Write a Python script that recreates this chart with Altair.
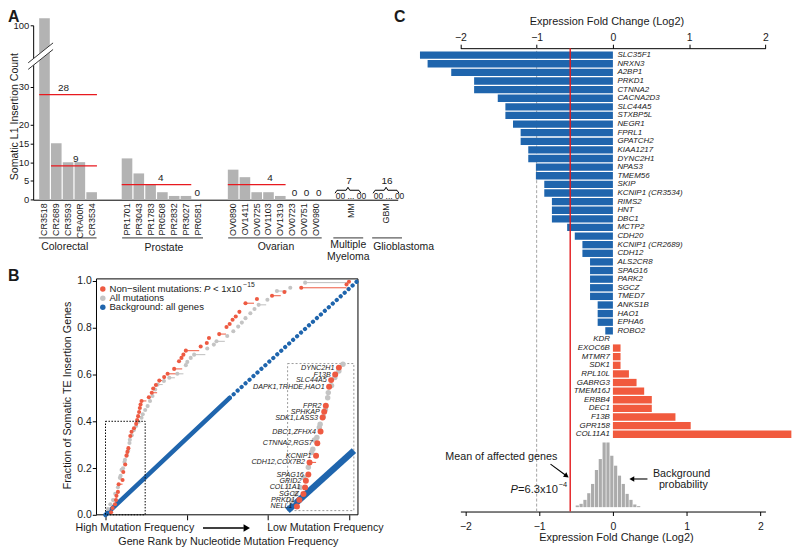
import altair as alt
import pandas as pd

FONT = "Liberation Sans"
W, H = 788, 546
INK = "#1a1a1a"
BLUE = "#1f65ad"
RED_C = "#f15a3e"
RED_B = "#ee5a42"
GRAY_B = "#c4c4c4"
GRAY_A = "#b3b3b3"
MEAN_RED = "#e8191f"

# ---------------- Panel A data ----------------
a_samples = ["CR3518", "CR2689", "CR3593", "CRA00R", "CR3534",
             "PR1701", "PR3043", "PR1783", "PR0508", "PR2832", "PR3027", "PR0581",
             "OV0890", "OV1411", "OV0725", "OV1103", "OV1319", "OV0723", "OV0751", "OV0980"]
a_counts = [103, 15, 10, 10, 2, 11, 7, 4, 2, 1, 1, 0, 8, 6, 2, 2, 1, 0, 0, 0]
a_axis_slots = ["CR3518", "CR2689", "CR3593", "CRA00R", "CR3534", "gap1", "gap2",
                "PR1701", "PR3043", "PR1783", "PR0508", "PR2832", "PR3027", "PR0581", "gap3", "gap4",
                "OV0890", "OV1411", "OV0725", "OV1103", "OV1319", "OV0723", "OV0751", "OV0980", "gap5", "gap6",
                "MM", "gap7", "gap8", "GBM"]
a_mean_from = ["CR3518", "CR2689", "PR1701", "OV0890"]
a_mean_to = ["CR3534", "CR3534", "PR3027", "OV1319"]
a_mean_value = [28, 9, 4, 4]
a_mean_label_slot = ["CR3593", "CRA00R", "PR0508", "OV1103"]
a_y_ticks = [0, 5, 10, 15, 20, 30, 100]
pooled_names = ["MM", "GBM"]
pooled_totals = ["7", "16"]

# ---------------- Panel B data ----------------
red_x = [0.023, 0.029, 0.039, 0.043, 0.045, 0.051, 0.054, 0.070, 0.073, 0.081, 0.086, 0.090, 0.094,
         0.102, 0.107, 0.117, 0.126, 0.130, 0.134, 0.138, 0.141, 0.144, 0.148, 0.178, 0.190, 0.196,
         0.207, 0.221, 0.241, 0.255, 0.282, 0.302, 0.312, 0.320, 0.330, 0.391, 0.416, 0.425, 0.467,
         0.497, 0.510, 0.522, 0.535, 0.550, 0.575, 0.622, 0.684, 0.735, 0.804, 0.990, 1.000]
red_y = [0.011, 0.029, 0.045, 0.063, 0.081, 0.098, 0.131, 0.149, 0.183, 0.215, 0.253, 0.269, 0.285,
         0.337, 0.355, 0.370, 0.389, 0.405, 0.422, 0.440, 0.457, 0.472, 0.487, 0.503, 0.522, 0.540,
         0.555, 0.574, 0.589, 0.603, 0.624, 0.657, 0.671, 0.685, 0.702, 0.720, 0.735, 0.756, 0.773,
         0.803, 0.816, 0.834, 0.848, 0.868, 0.905, 0.923, 0.937, 0.953, 0.971, 0.985, 0.997]
red_tail = [0.023, 0.029, 0.039, 0.043, 0.045, 0.051, 0.070, 0.070, 0.073, 0.081, 0.086, 0.090, 0.094,
            0.102, 0.107, 0.117, 0.126, 0.130, 0.134, 0.138, 0.141, 0.144, 0.168, 0.178, 0.212, 0.196,
            0.207, 0.245, 0.241, 0.290, 0.315, 0.302, 0.312, 0.320, 0.385, 0.391, 0.416, 0.425, 0.495,
            0.497, 0.510, 0.522, 0.535, 0.550, 0.610, 0.622, 0.720, 0.735, 0.990, 0.990, 1.000]
inset_labels = ["NELL1", "PRKD1", "SGCZ", "COL11A1", "GRID2", "SPAG16", "CDH12,COX7B2", "KCNIP1",
                "CTNNA2,RGS7", "DBC1,ZFHX4", "SDK1,LASS3", "SPHKAP", "FPR2", "DAPK1,TRHDE,HAO1",
                "SLC44A5", "F13B", "DYNC2H1"]
gray_x = [0.010, 0.020, 0.031, 0.040, 0.051, 0.059, 0.062, 0.066, 0.072, 0.078, 0.080, 0.088, 0.093,
          0.0985, 0.100, 0.108, 0.116, 0.126, 0.136, 0.148, 0.153, 0.163, 0.173, 0.183, 0.193, 0.204,
          0.214, 0.240, 0.262, 0.295, 0.330, 0.336, 0.350, 0.364, 0.418, 0.445, 0.456, 0.500, 0.525,
          0.545, 0.560, 0.575, 0.595, 0.612, 0.629, 0.665, 0.704, 0.759, 0.820]
gray_y = [0.025, 0.045, 0.063, 0.090, 0.118, 0.158, 0.167, 0.192, 0.199, 0.226, 0.235, 0.255, 0.275,
          0.307, 0.321, 0.340, 0.362, 0.380, 0.398, 0.415, 0.430, 0.448, 0.465, 0.487, 0.508, 0.536,
          0.557, 0.572, 0.586, 0.603, 0.640, 0.654, 0.671, 0.685, 0.711, 0.728, 0.742, 0.765, 0.785,
          0.805, 0.822, 0.841, 0.862, 0.880, 0.898, 0.920, 0.957, 0.971, 0.993]
gray_tail = [0.010, 0.020, 0.031, 0.040, 0.051, 0.059, 0.062, 0.066, 0.072, 0.078, 0.080, 0.088, 0.093,
             0.0985, 0.100, 0.108, 0.116, 0.126, 0.136, 0.148, 0.153, 0.163, 0.173, 0.183, 0.193, 0.204,
             0.235, 0.240, 0.285, 0.320, 0.330, 0.336, 0.350, 0.410, 0.418, 0.445, 0.490, 0.500, 0.525,
             0.545, 0.560, 0.575, 0.595, 0.612, 0.660, 0.665, 0.745, 0.759, 0.995]
bg_x = [0.0, 0.51, 1.035]
bg_y = [0.0, 0.50, 1.0]
b_y_ticks = [0, 0.2, 0.4, 0.6, 0.8, 1.0]
b_x_ticks = [0, 1 / 3, 2 / 3, 1]

# ---------------- Panel C data ----------------
c_genes = ["SLC35F1", "NRXN3", "A2BP1", "PRKD1", "CTNNA2", "CACNA2D3", "SLC44A5", "STXBP5L", "NEGR1",
           "FPRL1", "GPATCH2", "KIAA1217", "DYNC2H1", "NPAS3", "TMEM56", "SKIP", "KCNIP1 (CR3534)",
           "RIMS2", "HNT", "DBC1", "MCTP2", "CDH20", "KCNIP1 (CR2689)", "CDH12", "ALS2CR8", "SPAG16",
           "PARK2", "SGCZ", "TMED7", "ANKS1B", "HAO1", "EPHA6", "ROBO2", "KDR", "EXOC6B", "MTMR7",
           "SDK1", "RPL10L", "GABRG3", "TMEM16J", "ERBB4", "DEC1", "F13B", "GPR158", "COL11A1"]
c_fc = [-2.53, -2.43, -2.12, -1.82, -1.82, -1.51, -1.41, -1.41, -1.31, -1.21, -1.21, -1.11, -1.11,
        -1.01, -1.01, -0.90, -0.90, -0.80, -0.80, -0.80, -0.60, -0.50, -0.40, -0.40, -0.30, -0.30,
        -0.30, -0.30, -0.30, -0.20, -0.20, -0.20, -0.10, 0.0, 0.10, 0.10, 0.10, 0.21, 0.31, 0.41,
        0.51, 0.51, 0.82, 1.02, 2.34]
c_mean = -0.56
hist_x = [-0.483, -0.431, -0.379, -0.327, -0.275, -0.223, -0.171, -0.119, -0.067, -0.015, 0.037,
          0.089, 0.141, 0.193, 0.245, 0.297, 0.349]
hist_h = [5, 10, 22, 42, 70, 112, 145, 195, 195, 155, 125, 95, 70, 40, 22, 8, 3]
c_ticks = [-2, -1, 0, 1, 2]


# ---------------- scales (explicit pixel ranges) ----------------
def sxA():
    return alt.Scale(domain=a_axis_slots, range=[25.3, 391.7], paddingInner=0.1, paddingOuter=0.51)


def syA():
    return alt.Scale(domain=[0, 33, 97, 100], range=[191.3, 66.7, 23, 16], nice=False, zero=False)


def sxB():
    return alt.Scale(domain=[0, 1], range=[98, 342.7], nice=False, zero=False)


def syB():
    return alt.Scale(domain=[0, 1], range=[508, 273], nice=False, zero=False)


def sxI():
    return alt.Scale(domain=[0, 0.163], range=[281, 347.7], nice=False, zero=False)


def syI():
    return alt.Scale(domain=[0, 0.4], range=[503.7, 356], nice=False, zero=False)


def sxC():
    return alt.Scale(domain=[-2, 2], range=[454.7, 761.3], nice=False, zero=False)


def syC():
    return alt.Scale(domain=c_genes, range=[41.67, 431.33], paddingInner=0.15, paddingOuter=0.075)


def syH():
    return alt.Scale(domain=[0, 195], range=[500.3, 435.3], nice=False, zero=False)


def syF():
    return alt.Scale(domain=[0, 1], range=[504.7, 39], nice=False, zero=False)


one = pd.DataFrame({"d": [0]})
layers = []


def ptext(s, x, y, size=10, align="center", baseline="middle", color=INK, **kw):
    return alt.Chart(one).mark_text(text=s, font=FONT, fontSize=size, align=align,
                                    baseline=baseline, color=color, **kw).encode(
        x=alt.value(x), y=alt.value(y))


def prule(x1, y1, x2, y2, color="black", width=1.0, **kw):
    return alt.Chart(one).mark_rule(color=color, strokeWidth=width, **kw).encode(
        x=alt.value(x1), x2=alt.value(x2), y=alt.value(y1), y2=alt.value(y2))


def phead(x, y, shape, size, color="black", angle=0):
    return alt.Chart(one).mark_point(shape=shape, size=size, filled=True, color=color,
                                     opacity=1, angle=angle, strokeWidth=0).encode(
        x=alt.value(x), y=alt.value(y))


# ================= Panel A =================
dfA = pd.DataFrame({"sample": a_samples, "count": a_counts})
axA_x = alt.Axis(orient="bottom", offset=191.3 - H, labelAngle=270, labelFontSize=9,
                 labelPadding=3, ticks=False, title=None, grid=False,
                 labelExpr="indexof(datum.label, 'gap') == 0 ? '' : datum.label")
axA_y = alt.Axis(orient="left", offset=-25.3, values=a_y_ticks, tickSize=3, labelPadding=1.5,
                 labelFontSize=9.5, title=None, grid=False, labelOverlap=False)
layers.append(alt.Chart(dfA).mark_bar(color=GRAY_A).encode(
    x=alt.X("sample:N", scale=sxA(), sort=None, axis=axA_x),
    y=alt.Y("count:Q", scale=syA(), stack=None, axis=axA_y)))

dfM = pd.DataFrame({"s": a_mean_from, "e": a_mean_to, "v": a_mean_value,
                    "lab": a_mean_label_slot, "t": [str(v) for v in a_mean_value]})
layers.append(alt.Chart(dfM).mark_rule(color=MEAN_RED, strokeWidth=1.3).encode(
    x=alt.X("s:N", scale=sxA(), axis=None, bandPosition=0),
    x2=alt.X2("e", bandPosition=1),
    y=alt.Y("v:Q", scale=syA(), axis=None)))
layers.append(alt.Chart(dfM).mark_text(font=FONT, fontSize=10, baseline="bottom", dy=-2,
                                       color=INK).encode(
    x=alt.X("lab:N", scale=sxA(), axis=None),
    y=alt.Y("v:Q", scale=syA(), axis=None),
    text="t:N"))
dfZ = dfA[dfA["count"] == 0]
layers.append(alt.Chart(dfZ).mark_text(font=FONT, fontSize=10, baseline="bottom", dy=-2,
                                       color=INK, text="0").encode(
    x=alt.X("sample:N", scale=sxA(), axis=None),
    y=alt.Y("count:Q", scale=syA(), axis=None)))

# axis break
layers.append(prule(20.3, 57, 45.3, 37, color="white", width=5.5))
layers.append(prule(20.3, 53.7, 45.3, 33.7, color="#333333", width=1))
layers.append(prule(20.3, 60.3, 45.3, 40.3, color="#333333", width=1))

# pooled samples (MM, GBM): brace, total and "00 ... 00"
for cx, tot in zip([341.7, 380.0], pooled_totals):
    l, r = cx - 13, cx + 13
    yb = 181.8
    layers.append(prule(l, yb + 3, l + 2, yb))
    layers.append(prule(l + 2, yb, cx - 1.8, yb))
    layers.append(prule(cx - 1.8, yb, cx, yb - 3))
    layers.append(prule(cx, yb - 3, cx + 1.8, yb))
    layers.append(prule(cx + 1.8, yb, r - 2, yb))
    layers.append(prule(r - 2, yb, r, yb + 3))
    layers.append(ptext(tot, cx + 1, 172.5, size=10))
    layers.append(ptext("00 ... 00", cx + 3, 187.5, size=8.5))

# group underlines and names
for x1, x2 in [(31, 89), (114.7, 196), (221.3, 315.3), (327, 357), (366, 396)]:
    layers.append(prule(x1, 229.7, x2, 229.7, color="#333333", width=1))
layers.append(ptext("Colorectal", 57, 239, size=10.5))
layers.append(ptext("Prostate", 156.7, 240, size=10.5))
layers.append(ptext("Ovarian", 269.3, 239.3, size=10.5))
layers.append(ptext("Multiple", 342, 237, size=10.5))
layers.append(ptext("Myeloma", 342, 248.5, size=10.5))
layers.append(ptext("Glioblastoma", 367, 239.3, size=10.5, align="left"))
layers.append(ptext("Somatic L1 Insertion Count", 6.8, 107.8, size=10.6, angle=270))
layers.append(ptext("A", 0, 0, size=16, align="left", baseline="top", fontWeight="bold"))

# ================= Panel B =================
axB_x = alt.Axis(orient="bottom", offset=508 - H, values=b_x_ticks, labels=False, tickSize=5,
                 domain=False, title=None, grid=False)
axB_y = alt.Axis(orient="left", offset=-88.7, values=b_y_ticks, format=".1f", tickSize=4,
                 labelPadding=1, domain=False, title=None, grid=False, labelFontSize=10.5,
                 labelOverlap=False)
layers.append(alt.Chart(one).mark_rect(fillOpacity=0, stroke="black", strokeWidth=1).encode(
    x=alt.XDatum(-0.037, type="quantitative", scale=sxB(), axis=axB_x),
    x2=alt.X2Datum(1.037),
    y=alt.YDatum(0, type="quantitative", scale=syB(), axis=axB_y),
    y2=alt.Y2Datum(1.009)))

dfBG = pd.DataFrame({"x": bg_x, "y": bg_y})
layers.append(alt.Chart(dfBG.iloc[:2]).mark_line(color=BLUE, strokeWidth=4.6, strokeCap="round").encode(
    x=alt.X("x:Q", scale=sxB(), axis=None), y=alt.Y("y:Q", scale=syB(), axis=None)))
layers.append(alt.Chart(dfBG.iloc[1:]).mark_line(color=BLUE, strokeWidth=4.2, strokeCap="round",
                                                 strokeDash=[0.1, 5.3]).encode(
    x=alt.X("x:Q", scale=sxB(), axis=None), y=alt.Y("y:Q", scale=syB(), axis=None)))

dfG = pd.DataFrame({"x": gray_x, "y": gray_y, "t": gray_tail})
dfR = pd.DataFrame({"x": red_x, "y": red_y, "t": red_tail})
for df, col in [(dfG, "#bdbdbd"), (dfR, RED_B)]:
    tails = df[df["t"] > df["x"]]
    layers.append(alt.Chart(tails).mark_rule(color=col, strokeWidth=1).encode(
        x=alt.X("x:Q", scale=sxB(), axis=None), x2="t:Q",
        y=alt.Y("y:Q", scale=syB(), axis=None)))
layers.append(alt.Chart(dfG).mark_circle(size=17, color=GRAY_B, opacity=1).encode(
    x=alt.X("x:Q", scale=sxB(), axis=None), y=alt.Y("y:Q", scale=syB(), axis=None)))
layers.append(alt.Chart(dfR).mark_circle(size=17, color=RED_B, opacity=1).encode(
    x=alt.X("x:Q", scale=sxB(), axis=None), y=alt.Y("y:Q", scale=syB(), axis=None)))

# dotted region in main plot and inset box
layers.append(alt.Chart(one).mark_rect(fillOpacity=0, stroke="black", strokeWidth=1,
                                       strokeDash=[1.5, 1.5]).encode(
    x=alt.XDatum(0, type="quantitative", scale=sxB(), axis=None), x2=alt.X2Datum(0.163),
    y=alt.YDatum(0, type="quantitative", scale=syB(), axis=None), y2=alt.Y2Datum(0.4)))
layers.append(alt.Chart(one).mark_rect(fillOpacity=0, stroke="#9a9a9a", strokeWidth=1,
                                       strokeDash=[2, 2]).encode(
    x=alt.XDatum(0.748, type="quantitative", scale=sxB(), axis=None), x2=alt.X2Datum(1.020),
    y=alt.YDatum(0.018, type="quantitative", scale=syB(), axis=None), y2=alt.Y2Datum(0.647)))

# inset
dfBGI = pd.DataFrame({"x": [0.0, 0.163], "y": [0.0, 0.163]})
layers.append(alt.Chart(dfBGI).mark_line(color=BLUE, strokeWidth=6.5).encode(
    x=alt.X("x:Q", scale=sxI(), axis=None), y=alt.Y("y:Q", scale=syI(), axis=None)))
inG = dfG[(dfG["x"] <= 0.163) & (dfG["y"] <= 0.4)]
inR = dfR[(dfR["x"] <= 0.163) & (dfR["y"] <= 0.4)].copy()
inRt = inR[inR["t"] > inR["x"]]
layers.append(alt.Chart(inRt).mark_rule(color=RED_B, strokeWidth=1).encode(
    x=alt.X("x:Q", scale=sxI(), axis=None), x2="t:Q", y=alt.Y("y:Q", scale=syI(), axis=None)))
layers.append(alt.Chart(inG).mark_circle(size=30, color=GRAY_B, opacity=1).encode(
    x=alt.X("x:Q", scale=sxI(), axis=None), y=alt.Y("y:Q", scale=syI(), axis=None)))
layers.append(alt.Chart(inR).mark_circle(size=36, color=RED_B, opacity=1).encode(
    x=alt.X("x:Q", scale=sxI(), axis=None), y=alt.Y("y:Q", scale=syI(), axis=None)))
inL = inR.iloc[:len(inset_labels)].copy()
inL["lab"] = inset_labels
layers.append(alt.Chart(inL).mark_text(font=FONT, fontSize=7.2, fontStyle="italic", align="right",
                                       dx=-4.5, color=INK).encode(
    x=alt.X("x:Q", scale=sxI(), axis=None), y=alt.Y("y:Q", scale=syI(), axis=None), text="lab:N"))

# legend
for yy, col, lab in [(281, RED_B, None), (290.3, GRAY_B, "All mutations"),
                     (299.3, BLUE, "Background: all genes")]:
    layers.append(alt.Chart(one).mark_circle(size=30, color=col, opacity=1).encode(
        x=alt.value(95.3), y=alt.value(yy)))
    if lab:
        layers.append(ptext(lab, 102, yy, size=9.6, align="left"))
layers.append(ptext("Non\u2212silent mutations:", 102, 281, size=9.6, align="left"))
layers.append(ptext("P", 197, 281, size=9.6, align="left", fontStyle="italic"))
layers.append(ptext("< 1x10", 206, 281, size=9.6, align="left"))
layers.append(ptext("\u221215", 236.5, 277, size=6.8, align="left"))

# axis texts of B
layers.append(ptext("Fraction of Somatic TE Insertion Genes", 60.3, 388, size=10.8, angle=270))
layers.append(ptext("High Mutation Frequency", 127.5, 521.5, size=10.7))
layers.append(ptext("Low Mutation Frequency", 319, 521.5, size=10.7))
layers.append(prule(196, 521.3, 237, 521.3, width=1.6))
layers.append(phead(240, 521.3, "triangle-right", 55))
layers.append(ptext("Gene Rank by Nucleotide Mutation Frequency", 221.5, 535.5, size=10.8))
layers.append(ptext("B", 0, 260, size=16, align="left", baseline="top", fontWeight="bold"))

# ================= Panel C =================
layers.append(alt.Chart(one).mark_rule(color="#8c8c8c", strokeWidth=0.8, strokeDash=[3, 2]).encode(
    x=alt.XDatum(-1, type="quantitative", scale=sxC(), axis=None),
    y=alt.YDatum(0, type="quantitative", scale=syF(), axis=None), y2=alt.Y2Datum(1)))

dfC = pd.DataFrame({"gene": c_genes, "fc": c_fc})
axC_top = alt.Axis(orient="top", offset=-39, values=c_ticks, format="d", tickSize=4, labelPadding=2,
                   title=None, grid=False, labelFlush=False, labelFontSize=10.5)
layers.append(alt.Chart(dfC).mark_bar().encode(
    y=alt.Y("gene:N", scale=syC(), sort=None, axis=None),
    x=alt.X("fc:Q", scale=sxC(), stack=None, axis=axC_top),
    color=alt.condition("datum.fc < 0", alt.value(BLUE), alt.value(RED_C))))
layers.append(alt.Chart(dfC[dfC["fc"] < 0]).mark_text(font=FONT, fontSize=8, fontStyle="italic",
                                                      align="left", dx=4.5, color=INK).encode(
    x=alt.XDatum(0, type="quantitative", scale=sxC(), axis=None),
    y=alt.Y("gene:N", scale=syC(), sort=None, axis=None), text="gene:N"))
layers.append(alt.Chart(dfC[dfC["fc"] >= 0]).mark_text(font=FONT, fontSize=8, fontStyle="italic",
                                                       align="right", dx=-3, color=INK).encode(
    x=alt.XDatum(0, type="quantitative", scale=sxC(), axis=None),
    y=alt.Y("gene:N", scale=syC(), sort=None, axis=None), text="gene:N"))

dfH = pd.DataFrame({"x": hist_x, "h": hist_h})
axC_bot = alt.Axis(orient="bottom", offset=504.7 - H, values=c_ticks, format="d", tickSize=4,
                   labelPadding=6.5, title=None, grid=False, labelFlush=False, labelFontSize=10.5)
layers.append(alt.Chart(dfH).mark_bar(size=3.2, color="#ababab", orient="vertical").encode(
    x=alt.X("x:Q", scale=sxC(), axis=axC_bot),
    y=alt.Y("h:Q", scale=syH(), stack=None, axis=None)))

layers.append(alt.Chart(one).mark_rule(color="#e3191c", strokeWidth=1.4).encode(
    x=alt.XDatum(c_mean, type="quantitative", scale=sxC(), axis=None),
    y=alt.YDatum(0, type="quantitative", scale=syF(), axis=None), y2=alt.Y2Datum(1)))

layers.append(ptext("Expression Fold Change (Log2)", 602, 13, size=11))
layers.append(ptext("Expression Fold Change (Log2)", 611.5, 531.3, size=11))
layers.append(ptext("Mean of affected genes", 495.8, 450.3, size=10.8))
layers.append(prule(545.3, 457, 559.8, 467.7, width=1.1))
layers.append(phead(561.5, 469, "triangle-right", 32, angle=36))
layers.append(ptext("P", 505, 482.7, size=11.2, align="left", fontStyle="italic"))
layers.append(ptext("=6.3x10", 512.6, 482.7, size=11.2, align="left"))
layers.append(ptext("\u22124", 553.5, 478.5, size=7.5, align="left"))
layers.append(ptext("Background", 677, 467, size=10.8))
layers.append(ptext("probability", 678.8, 478.5, size=10.8))
layers.append(prule(642.7, 472, 629, 472, width=1.1))
layers.append(phead(627, 472, "triangle-left", 32))
layers.append(ptext("C", 388, 0, size=16, align="left", baseline="top", fontWeight="bold"))

chart = alt.layer(*layers).resolve_scale(x="independent", y="independent").properties(
    width=W, height=H, autosize=alt.AutoSizeParams(type="none"), padding=0
).configure_view(stroke=None).configure_axis(
    labelFont=FONT, titleFont=FONT, labelColor=INK, domainColor="black", tickColor="black",
    domainWidth=1, tickWidth=1
)

chart.save("out.html", embed_options={"renderer": "svg", "actions": False})
